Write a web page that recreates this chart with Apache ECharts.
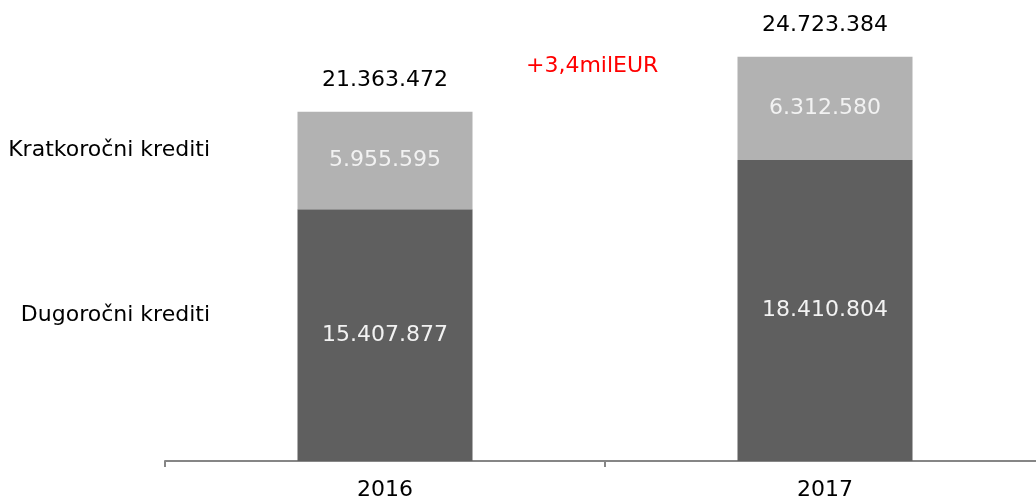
<!DOCTYPE html>
<html>
<head>
<meta charset="utf-8">
<script src="https://cdn.jsdelivr.net/npm/echarts@6/dist/echarts.min.js"></script>
<style>
  html, body { margin: 0; padding: 0; background: #fff; }
  #chart { width: 1036px; height: 502px; }
</style>
</head>
<body>
<div id="chart"></div>
<script>
// podaci
const years = ['2016', '2017'];
const dugorocni = [15407877, 18410804];
const kratkorocni = [5955595, 6312580];
const ukupno = [21363472, 24723384];
const seriesNames = ['Dugoročni krediti', 'Kratkoročni krediti'];
const deltaText = '+3,4milEUR';

const FONT = 'DejaVu Sans';

// 1234567 -> 1.234.567
const fmt = (v) => String(v).replace(/\B(?=(\d{3})+(?!\d))/g, '.');

const chart = echarts.init(document.getElementById('chart'));

const labelStyle = {
  show: true,
  position: 'inside',
  color: '#f2f2f2',
  fontFamily: FONT,
  fontSize: 22,
  formatter: (p) => fmt(p.value)
};

const option = {
  animation: false,
  grid: { left: 165, width: 880, top: 36, bottom: 41, outerBoundsMode: 'none', containLabel: false },
  xAxis: {
    type: 'category',
    data: years,
    axisLine: { lineStyle: { color: '#868686', width: 2 } },
    axisTick: { show: true, length: 6, lineStyle: { color: '#868686', width: 2 } },
    axisLabel: { color: '#000', fontFamily: FONT, fontSize: 22, margin: 18 }
  },
  yAxis: {
    type: 'value',
    min: 0,
    max: 26000000,
    show: false
  },
  series: [
    {
      name: seriesNames[0],
      type: 'bar',
      stack: 'krediti',
      barWidth: 175,
      data: dugorocni,
      itemStyle: { color: '#5f5f5f' },
      label: labelStyle
    },
    {
      name: seriesNames[1],
      type: 'bar',
      stack: 'krediti',
      barWidth: 175,
      data: kratkorocni,
      itemStyle: { color: '#b2b2b2' },
      label: labelStyle
    },
    {
      // nevidljivi stupac samo za ukupni iznos iznad
      name: 'Ukupno',
      type: 'bar',
      barWidth: 175,
      barGap: '-100%',
      z: 1,
      data: ukupno,
      itemStyle: { color: 'rgba(0,0,0,0)' },
      label: {
        show: true,
        position: 'top',
        distance: 21,
        color: '#000',
        fontFamily: FONT,
        fontSize: 22,
        formatter: (p) => fmt(p.value)
      }
    }
  ],
  graphic: [
    {
      type: 'text',
      right: 826,
      top: 139,
      style: { text: seriesNames[1], fill: '#000', font: '22px "DejaVu Sans"' }
    },
    {
      type: 'text',
      right: 826,
      top: 304,
      style: { text: seriesNames[0], fill: '#000', font: '22px "DejaVu Sans"' }
    },
    {
      type: 'text',
      left: 526,
      top: 55,
      style: { text: deltaText, fill: '#ff0000', font: '22px "DejaVu Sans"' }
    }
  ]
};

chart.setOption(option);
</script>
</body>
</html>
